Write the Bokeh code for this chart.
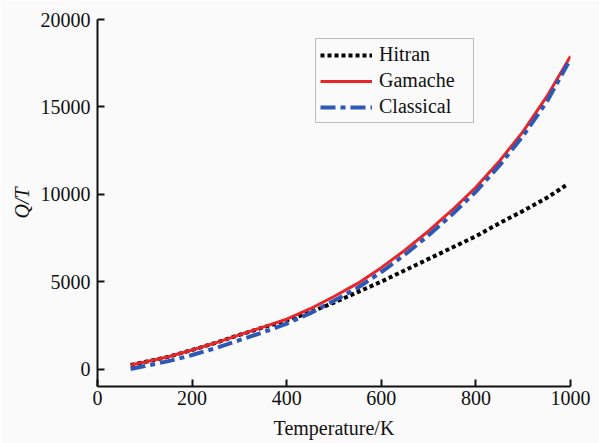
from bokeh.plotting import figure
from bokeh.models import Range1d, Legend, LegendItem, FixedTicker
from bokeh.embed import file_html
from bokeh.resources import INLINE

# Temperatures (K)
t_gamache = [70, 100, 150, 200, 250, 300, 350, 400, 450, 500, 550, 600, 650, 700, 750, 800, 850, 900, 950, 1000]
gamache = [230, 400, 700, 1090, 1500, 1950, 2400, 2850, 3450, 4150, 4900, 5800, 6800, 7900, 9100, 10400, 11900, 13600, 15600, 17900]

t_hitran = [70, 100, 150, 200, 250, 300, 350, 400, 450, 500, 550, 600, 650, 700, 750, 800, 850, 900, 950, 990]
hitran = [230, 400, 700, 1090, 1500, 1950, 2380, 2780, 3250, 3800, 4400, 5000, 5650, 6300, 6950, 7600, 8350, 9050, 9800, 10500]

t_classical = [70, 100, 150, 200, 250, 300, 350, 400, 450, 500, 550, 600, 650, 700, 750, 800, 850, 900, 950, 995]
classical = [0, 170, 450, 800, 1200, 1650, 2100, 2600, 3200, 3900, 4650, 5550, 6550, 7650, 8850, 10150, 11650, 13350, 15300, 17500]

x_ticks = [0, 200, 400, 600, 800, 1000]
y_ticks = [0, 5000, 10000, 15000, 20000]

BG = "#fafafa"
FONT = "Liberation Serif"

p = figure(width=599, height=443, output_backend="svg", toolbar_location=None,
           x_range=Range1d(0, 1000), y_range=Range1d(-1000, 20000),
           min_border_left=97, min_border_right=29, min_border_top=19, min_border_bottom=57)
p.background_fill_color = BG
p.border_fill_color = BG
p.outline_line_color = None
p.grid.visible = False

for ax in (p.xaxis[0], p.yaxis[0]):
    ax.axis_line_width = 2
    ax.axis_line_color = "#111111"
    ax.major_tick_line_width = 2
    ax.major_tick_line_color = "#111111"
    ax.major_tick_in = 7
    ax.major_tick_out = 0
    ax.minor_tick_line_color = None
    ax.major_label_text_font = FONT
    ax.major_label_text_font_size = "20px"
    ax.major_label_text_color = "#111111"
    ax.axis_label_text_font = FONT
    ax.axis_label_text_font_size = "20px"
    ax.axis_label_text_font_style = "normal"
    ax.axis_label_text_color = "#111111"

p.xaxis.ticker = FixedTicker(ticks=x_ticks)
p.yaxis.ticker = FixedTicker(ticks=y_ticks)
p.xaxis.major_label_standoff = 4
p.yaxis.major_label_standoff = 7
p.xaxis.axis_label = "Temperature/K"
p.xaxis.axis_label_standoff = 9
p.yaxis.axis_label = "Q/T"
p.yaxis.axis_label_text_font_style = "italic"
p.yaxis.axis_label_standoff = 5

r_h = p.line(t_hitran, hitran, line_color="black", line_width=4, line_dash="4 3")
r_g = p.line(t_gamache, gamache, line_color="#e8262a", line_width=3)
r_c = p.line(t_classical, classical, line_color="#2b59b5", line_width=4, line_dash="15 5 5 5")

legend = Legend(items=[LegendItem(label="Hitran", renderers=[r_h]),
                       LegendItem(label="Gamache", renderers=[r_g]),
                       LegendItem(label="Classical", renderers=[r_c])],
                location=(218, 263))
legend.label_text_font = FONT
legend.label_text_font_size = "20px"
legend.label_text_color = "#111111"
legend.glyph_width = 52
legend.glyph_height = 18
legend.label_height = 18
legend.label_width = 90
legend.spacing = 3
legend.padding = 4
legend.margin = 0
legend.label_standoff = 7
legend.border_line_color = "#808080"
legend.border_line_width = 1.5
legend.background_fill_color = BG
legend.background_fill_alpha = 1
p.add_layout(legend, "center")

open("out.html", "w").write(file_html(p, INLINE))
